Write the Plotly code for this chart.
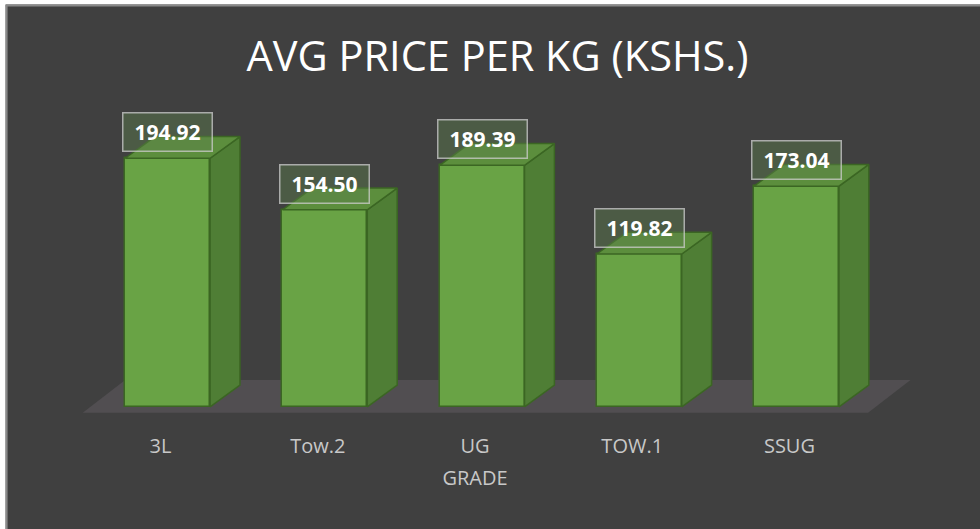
import plotly.graph_objects as go

# ---- data ----
categories = ["3L", "Tow.2", "UG", "TOW.1", "SSUG"]
avg_price = [194.92, 154.50, 189.39, 119.82, 173.04]
title_text = "AVG PRICE PER KG (KSHS.)"
x_title = "GRADE"

# ---- style ----
W, H = 980, 529
BG = "#404040"
FRONT = "#69a345"
TOP = "#5c8e3d"
SIDE = "#4f7e35"
EDGE = "#3b6623"
FLOOR = "#514e51"
TXT = "#c8c8c8"
FONT = "Open Sans"

bar_w = 0.54      # bar width in category units
dx = 0.19         # depth offset (x, category units)
dy = 17.0         # depth offset (y, value units)

x_range = [-0.85, 4.76]
y_range = [-8, 250]
ml, mr, mt, mb = 34.4, 63.7, 87.6, 111.8

n = len(categories)
idx = list(range(n))

fig = go.Figure()

# front faces
fig.add_trace(go.Bar(
    x=idx, y=avg_price, width=bar_w,
    marker=dict(color=FRONT, line=dict(color=EDGE, width=1.5)),
    hoverinfo="skip", showlegend=False,
))

# side and top faces
for i, v in zip(idx, avg_price):
    xr = i + bar_w / 2
    xl = i - bar_w / 2
    fig.add_trace(go.Scatter(
        x=[xr, xr + dx, xr + dx, xr, xr],
        y=[0, dy, v + dy, v, 0],
        mode="lines", fill="toself", fillcolor=SIDE,
        line=dict(color=EDGE, width=1.5),
        hoverinfo="skip", showlegend=False,
    ))
    fig.add_trace(go.Scatter(
        x=[xl, xr, xr + dx, xl + dx, xl],
        y=[v, v, v + dy, v + dy, v],
        mode="lines", fill="toself", fillcolor=TOP,
        line=dict(color=EDGE, width=1.5),
        hoverinfo="skip", showlegend=False,
    ))

# floor (below traces)
f_front_y, f_back_y = -4.7, 21.0
f_left, f_right, f_shift = -0.54, (n - 1) + 0.455, 0.27
floor_path = (f"M {f_left},{f_front_y} L {f_right},{f_front_y} "
              f"L {f_right + f_shift},{f_back_y} L {f_left + f_shift},{f_back_y} Z")
shapes = [dict(type="path", xref="x", yref="y", path=floor_path,
               fillcolor=FLOOR, line=dict(width=0), layer="below")]

# white margin and light border at top-left (chart frame)
pw = W - ml - mr
ph = H - mt - mb
def px2x(px):
    return (px - ml) / pw
def py2y(py):
    return 1 - (py - mt) / ph

shapes += [
    dict(type="rect", xref="paper", yref="paper", x0=px2x(-5), x1=px2x(6),
         y0=py2y(H + 5), y1=py2y(-5), fillcolor="white", line=dict(width=0), layer="above"),
    dict(type="rect", xref="paper", yref="paper", x0=px2x(-5), x1=px2x(W + 5),
         y0=py2y(4), y1=py2y(-5), fillcolor="white", line=dict(width=0), layer="above"),
    dict(type="line", xref="paper", yref="paper", x0=px2x(7), x1=px2x(7),
         y0=py2y(H + 5), y1=py2y(5), line=dict(color="#8a8a8a", width=2), layer="above"),
    dict(type="line", xref="paper", yref="paper", x0=px2x(6), x1=px2x(W + 5),
         y0=py2y(5), y1=py2y(5), line=dict(color="#8a8a8a", width=2), layer="above"),
]

# data labels
annotations = []
for i, v in zip(idx, avg_price):
    annotations.append(dict(
        x=i, y=v, xref="x", yref="y", text=f"<b>{v:.2f}</b>",
        showarrow=False, xanchor="center", yanchor="bottom", yshift=6,
        font=dict(family=FONT, size=21, color="white"),
        bgcolor="rgba(92,129,77,0.42)", bordercolor="rgba(205,205,205,0.75)",
        borderwidth=1.5, borderpad=3, width=82, height=31,
    ))

fig.update_layout(
    width=W, height=H,
    margin=dict(l=ml, r=mr, t=mt, b=mb, pad=0),
    paper_bgcolor=BG, plot_bgcolor="rgba(0,0,0,0)",
    title=dict(text=title_text, x=497.5 / W, xanchor="center", xref="container",
               y=1 - 56 / H, yanchor="middle", yref="container",
               font=dict(family=FONT, size=41.5, color="white")),
    xaxis=dict(range=x_range, tickmode="array",
               tickvals=[i - 0.045 for i in idx], ticktext=categories,
               showgrid=False, zeroline=False, showline=False, ticks="",
               ticklabelstandoff=15,
               tickfont=dict(family=FONT, size=20, color=TXT),
               title=dict(text=x_title, standoff=12,
                          font=dict(family=FONT, size=20, color=TXT)),
               fixedrange=True),
    yaxis=dict(range=y_range, visible=False, showgrid=False, zeroline=False,
               fixedrange=True),
    shapes=shapes, annotations=annotations,
    showlegend=False, bargap=0,
)

fig.write_html(
    "out.html", config={"displayModeBar": False},
    post_script=("document.body.style.margin='0';"
                 "document.body.style.overflow='hidden';"
                 "document.body.style.background='#404040';"
                 "document.documentElement.style.background='#404040';"),
)
